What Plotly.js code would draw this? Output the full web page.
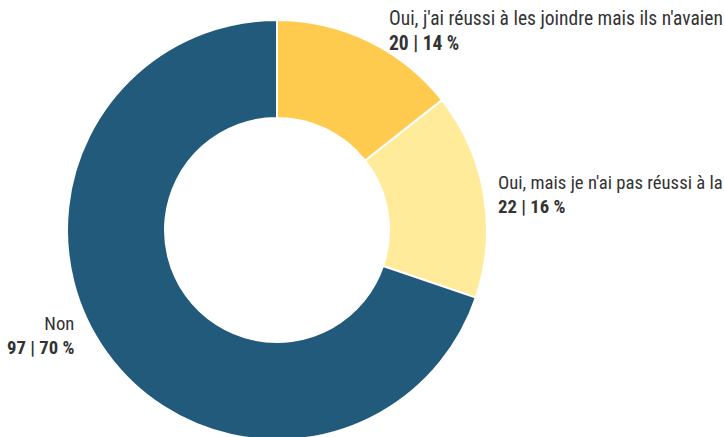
<!DOCTYPE html>
<html>
<head>
<meta charset="utf-8">
<script src="https://cdn.plot.ly/plotly-3.0.1.min.js"></script>
<style>
html,body{margin:0;padding:0;overflow:hidden;background:#fff;}
#chart{width:724px;height:460px;}
</style>
</head>
<body>
<div id="chart"></div>
<script>
var categories = [
  "Oui, j'ai réussi à les joindre mais ils n'avaien",
  "Oui, mais je n'ai pas réussi à la",
  "Non"
];
var values = [20, 22, 97];
var colors = ["#ffcb4f", "#ffeb99", "#215a7b"];

var W = 724, H = 460;
var FONT = "'Roboto Condensed', 'Liberation Sans Narrow', 'DejaVu Sans Condensed', sans-serif";

var total = values.reduce(function(a,b){return a+b;},0);
function pct(v){ return Math.round(v/total*100); }

// label anchor positions in pixels (layout only)
var labelPos = [
  {x: 387, y: 31, anchor: 'left'},
  {x: 496, y: 195, anchor: 'left'},
  {x: 76, y: 336, anchor: 'right'}
];
var labelSizes = [19.5, 18.7, 18.7];

var annotations = categories.map(function(c,i){
  var p = labelPos[i];
  return {
    xref: 'paper', yref: 'paper',
    x: p.x / W, y: (H - p.y) / H,
    xanchor: p.anchor, yanchor: 'middle',
    align: p.anchor,
    showarrow: false,
    text: c + '<br><b>' + values[i] + ' | ' + pct(values[i]) + ' %</b>',
    font: {family: FONT, size: labelSizes[i], color: '#333333'}
  };
});

var cx = 277, cy = 230, R = 210;
var trace = {
  type: 'pie',
  labels: categories,
  values: values,
  sort: false,
  direction: 'clockwise',
  rotation: 0,
  hole: 112/210,
  textinfo: 'none',
  hoverinfo: 'label+value+percent',
  marker: {colors: colors, line: {color: '#ffffff', width: 2}},
  domain: {
    x: [(cx - R)/W, (cx + R)/W],
    y: [(H - cy - R)/H, (H - cy + R)/H]
  },
  showlegend: false
};

Plotly.newPlot('chart', [trace], {
  width: W, height: H,
  margin: {l:0, r:0, t:0, b:0},
  paper_bgcolor: '#ffffff',
  showlegend: false,
  annotations: annotations
}, {displayModeBar: false, staticPlot: true});
</script>
</body>
</html>
